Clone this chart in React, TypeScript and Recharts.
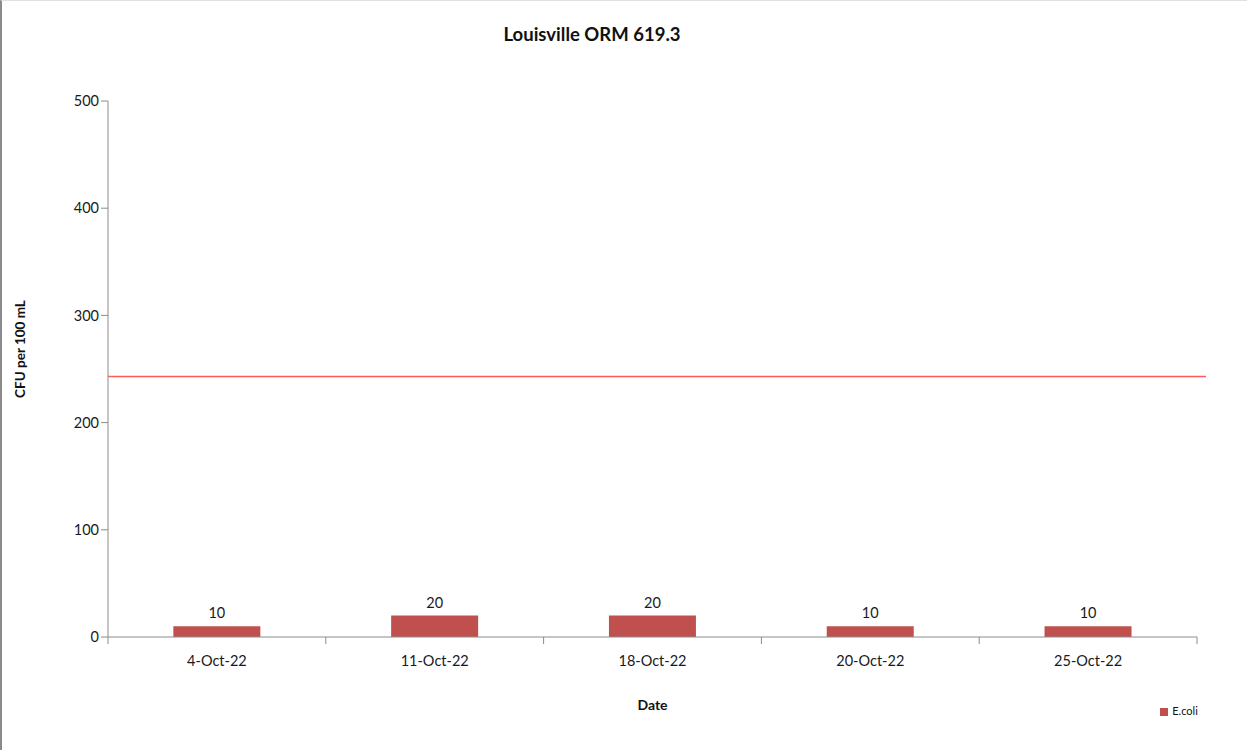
import { BarChart, Bar, XAxis, YAxis, ReferenceLine, Legend, LabelList } from "recharts";

const dates = ["4-Oct-22", "11-Oct-22", "18-Oct-22", "20-Oct-22", "25-Oct-22"];
const ecoli = [10, 20, 20, 10, 10];
const yTicks = [0, 100, 200, 300, 400, 500];
const limit = 243;

const data = dates.map((date, i) => ({ date, ecoli: ecoli[i] }));

const FONT = "Lato, 'Open Sans', sans-serif";
const AXIS = "#8c8c8c";

// category labels in the middle, tick marks on the band edges like Excel does
function DateTick(props: any) {
  const { x, y, payload, index } = props;
  const half = payload.offset || 0;
  return (
    <g>
      <line x1={x - half} y1={y - 8} x2={x - half} y2={y - 1} stroke={AXIS} />
      {index === dates.length - 1 && (
        <line x1={x + half} y1={y - 8} x2={x + half} y2={y - 1} stroke={AXIS} />
      )}
      <text x={x} y={y + 21} textAnchor="middle" fontSize={14.5} fill="#1a1a1a" fontFamily={FONT}>
        {payload.value}
      </text>
    </g>
  );
}

function LimitLine(props: any) {
  const { x1, y1, x2, y2 } = props;
  return <line x1={x1} y1={y1} x2={x2 + 9} y2={y2} stroke="#ff5a5a" strokeWidth={1.5} />;
}

export default function App() {
  return (
    <div
      style={{
        position: "absolute",
        left: 0,
        top: 0,
        width: 1247,
        height: 750,
        background: "#fff",
        boxSizing: "border-box",
        borderLeft: "2px solid #8a8a8a",
        borderTop: "1px solid #e0e0e0",
        fontFamily: FONT,
      }}
    >
      <div
        style={{
          position: "absolute",
          top: 22,
          left: 0,
          width: 1180,
          textAlign: "center",
          fontWeight: "bold",
          fontSize: 18.5,
          color: "#111",
        }}
      >
        Louisville ORM 619.3
      </div>
      <BarChart
        width={1245}
        height={748}
        data={data}
        margin={{ top: 100, right: 50, bottom: 82, left: 0 }}
        barCategoryGap="30%"
      >
        <XAxis
          dataKey="date"
          height={30}
          stroke={AXIS}
          tickLine={false}
          tick={<DateTick />}
          interval={0}
          label={{
            value: "Date",
            position: "insideBottom",
            offset: -43,
            fontWeight: "bold",
            fontSize: 14,
            fill: "#111",
            fontFamily: FONT,
          }}
        />
        <YAxis
          width={106}
          domain={[0, 500]}
          ticks={yTicks}
          stroke={AXIS}
          tickSize={7}
          tick={{ fill: "#1a1a1a", fontSize: 14.5, fontFamily: FONT }}
          label={{
            content: () => (
              <text
                x={23}
                y={348}
                transform="rotate(-90 23 348)"
                textAnchor="middle"
                fontWeight="bold"
                fontSize={13.5}
                fill="#111"
                fontFamily={FONT}
              >
                CFU per 100 mL
              </text>
            ),
          }}
        />
        <ReferenceLine y={limit} shape={<LimitLine />} />
        <Legend
          layout="horizontal"
          verticalAlign="middle"
          align="center"
          iconType="square"
          iconSize={8}
          wrapperStyle={{ position: "absolute", top: 703, left: 1142, width: 80, fontSize: 11 }}
          formatter={(v) => <span style={{ color: "#111" }}>{v}</span>}
        />
        <Bar dataKey="ecoli" name="E.coli" fill="#c0504d" isAnimationActive={false}>
          <LabelList dataKey="ecoli" position="top" offset={8} fontSize={14.5} fill="#1a1a1a" fontFamily={FONT} />
        </Bar>
      </BarChart>
    </div>
  );
}
